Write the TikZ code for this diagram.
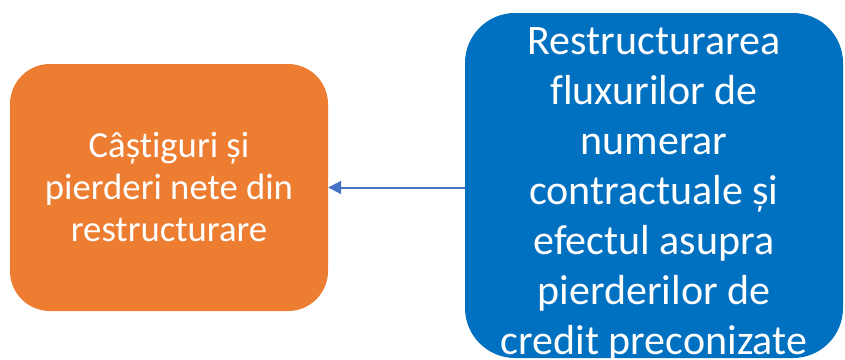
\documentclass[tikz,border=0pt]{standalone}
\usepackage{fontspec}
\setmainfont[Ligatures=CommonOff]{Carlito}
\usetikzlibrary{arrows.meta}
\definecolor{orangebox}{HTML}{ED7D31}
\definecolor{bluebox}{HTML}{0070C0}
\definecolor{arrowblue}{HTML}{4472C4}
\tikzset{
  boxstyle/.style={rectangle, draw=none, text=white, align=center, inner sep=0pt},
  orangestyle/.style={boxstyle, fill=orangebox, rounded corners=40pt,
     minimum width=318pt, minimum height=247pt, font=\fontsize{36.7}{42}\selectfont},
  bluestyle/.style={boxstyle, fill=bluebox, rounded corners=50pt,
     minimum width=378pt, minimum height=345pt},
  bluetextstyle/.style={boxstyle, font=\fontsize{42}{50}\selectfont},
  arr/.style={draw=arrowblue, line width=2pt, -{Triangle[length=13pt,width=13pt]}}
}
\begin{document}
\begin{tikzpicture}[x=1pt,y=-1pt]
\useasboundingbox (0,0) rectangle (845,359);
\node[orangestyle] (orange) at (169,187.5) {Câștiguri și\\pierderi nete din\\restructurare};
\node[bluestyle] (blue) at (654,185.5) {};
\node[bluetextstyle] (bluetext) at (654,194) {Restructurarea\\fluxurilor de\\numerar\\contractuale și\\efectul asupra\\pierderilor de\\credit preconizate};
\draw[arr] (orange.east -| blue.west) -- (orange.east);
\end{tikzpicture}
\end{document}
